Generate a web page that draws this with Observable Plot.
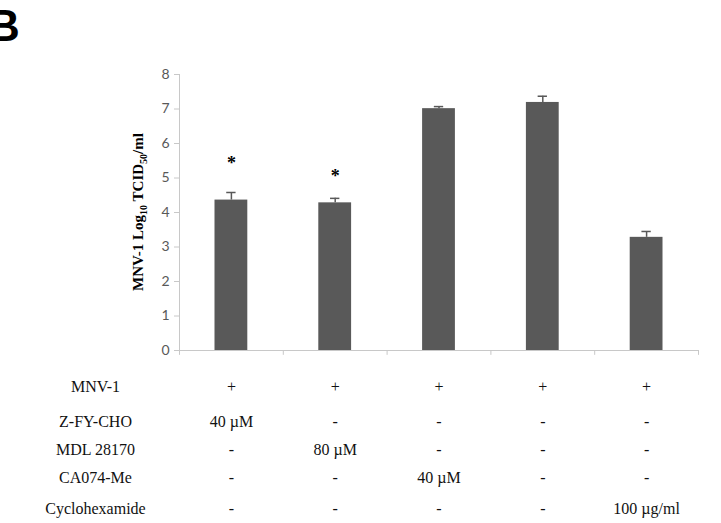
<!DOCTYPE html>
<html>
<head>
<meta charset="utf-8">
<script src="https://cdn.jsdelivr.net/npm/d3@7"></script>
<script src="https://cdn.jsdelivr.net/npm/@observablehq/plot@0.6"></script>
<style>
  html, body { margin: 0; padding: 0; background: #fff; }
  #chart svg { display: block; }
</style>
</head>
<body>
<div id="chart"></div>
<script>
// ---- data ----
const groups = ["Z-FY-CHO", "MDL 28170", "CA074-Me", "MNV-1 only", "Cyclohexamide"];
const titers = [4.36, 4.28, 7.01, 7.19, 3.28];
const errors = [0.22, 0.13, 0.06, 0.18, 0.17];
const starY = [5.54, 5.17, null, null, null];
const yTicks = [0, 1, 2, 3, 4, 5, 6, 7, 8];
const rowLabels = ["MNV-1", "Z-FY-CHO", "MDL 28170", "CA074-Me", "Cyclohexamide"];
const rowCells = [
  ["+", "+", "+", "+", "+"],
  ["40 \u00B5M", "-", "-", "-", "-"],
  ["-", "80 \u00B5M", "-", "-", "-"],
  ["-", "-", "40 \u00B5M", "-", "-"],
  ["-", "-", "-", "-", "100 \u00B5g/ml"]
];

// ---- build tables ----
const bars = groups.map((g, i) => ({i, g, v: titers[i], e: errors[i], top: titers[i] + errors[i]}));
const stars = bars.filter((d, i) => starY[i] != null).map(d => ({i: d.i, y: starY[d.i]}));
const rowOffsets = [36, 71, 99, 127, 158];
const serif = "'Liberation Serif', 'Times New Roman', serif";

const tableMarks = [];
rowCells.forEach((row, r) => {
  tableMarks.push(Plot.text(row.map((c, i) => ({i, c})), {
    x: d => d.i + 0.5, y: 0, text: "c", dy: rowOffsets[r],
    fontSize: 16, fill: "#111", fontFamily: serif
  }));
  tableMarks.push(Plot.text([rowLabels[r]], {
    x: 0, y: 0, text: d => d, dx: -84, dy: rowOffsets[r],
    fontSize: 16, fill: "#111", fontFamily: serif
  }));
});

const chart = Plot.plot({
  width: 721,
  height: 523,
  marginLeft: 179,
  marginRight: 23,
  marginTop: 74,
  marginBottom: 173,
  style: {background: "#fff", overflow: "visible"},
  x: {type: "linear", domain: [0, groups.length], axis: null},
  y: {type: "linear", domain: [0, 8], axis: null},
  marks: [
    // bars
    Plot.rectY(bars, {x1: d => d.i, x2: d => d.i + 1, y1: 0, y2: "v", fill: "#595959", insetLeft: 35.5, insetRight: 35.5}),
    // error bars
    Plot.ruleX(bars, {x: d => d.i + 0.5, y1: "v", y2: "top", stroke: "#595959", strokeWidth: 1.5}),
    Plot.ruleY(bars, {y: "top", x1: d => d.i + 0.455, x2: d => d.i + 0.545, stroke: "#595959", strokeWidth: 1.5}),
    // axes
    Plot.ruleX([0], {x: d => d, y1: 0, y2: 8, stroke: "#c8c8c8"}),
    Plot.ruleY([0], {y: d => d, x1: 0, x2: groups.length, stroke: "#c8c8c8"}),
    Plot.ruleX(d3.range(groups.length + 1), {x: d => d, y1: 0, y2: -0.14, stroke: "#c8c8c8"}),
    Plot.axisY({ticks: yTicks, tickSize: 5, stroke: "#c8c8c8", tickPadding: 5,
      fill: "#595959", fontSize: 14, fontFamily: "Lato, 'Open Sans', sans-serif", tickFormat: d => d}),
    // significance
    Plot.text(stars, {x: d => d.i + 0.5, y: "y", text: () => "*", fontSize: 18, fontWeight: "bold",
      fill: "#000", fontFamily: serif, dy: 4}),
    // treatment table
    ...tableMarks
  ]
});

document.getElementById("chart").appendChild(chart);

const svg = d3.select(chart);

// panel letter
svg.append("text")
  .attr("x", 4).attr("y", 41)
  .attr("font-family", "'Liberation Sans', Arial, sans-serif")
  .attr("font-weight", "bold").attr("font-size", 44).attr("fill", "#000")
  .text("B");

// y axis title with subscripts
const t = svg.append("text")
  .attr("transform", "translate(143,212) rotate(-90)")
  .attr("text-anchor", "middle")
  .attr("font-family", serif)
  .attr("font-weight", "bold").attr("font-size", 15).attr("fill", "#000");
t.append("tspan").text("MNV-1 Log");
t.append("tspan").attr("font-size", 10).attr("dy", 4).text("10");
t.append("tspan").attr("dy", -4).text(" TCID");
t.append("tspan").attr("font-size", 10).attr("dy", 4).text("50");
t.append("tspan").attr("dy", -4).text("/ml");
</script>
</body>
</html>
